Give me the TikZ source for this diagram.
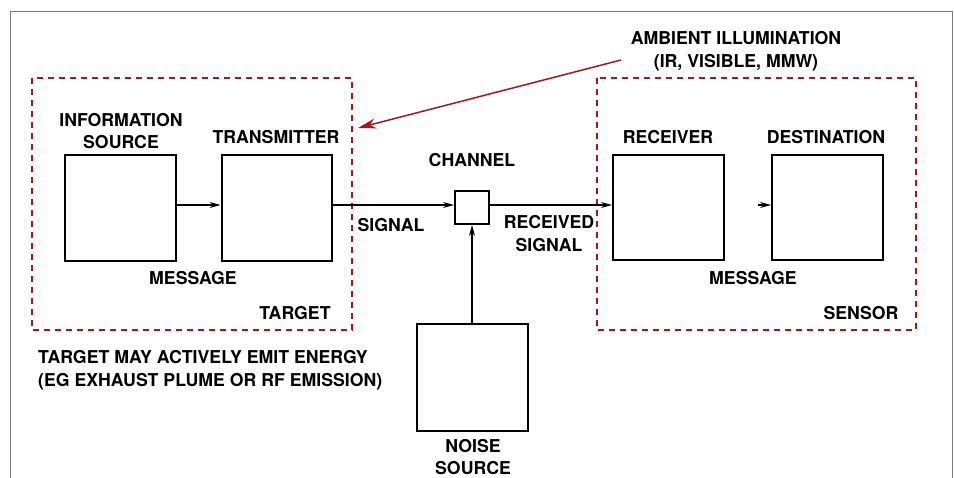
\documentclass[tikz,border=0pt]{standalone}
\usepackage{fontspec}
\setmainfont{TeX Gyre Heros}
\usetikzlibrary{arrows.meta}
\definecolor{dred}{HTML}{9B1B22}
\definecolor{frame}{HTML}{808080}
\begin{document}
\begin{tikzpicture}[x=1pt,y=-1pt,
  lbl/.style={font=\fontsize{17.7}{22.5}\selectfont\bfseries,align=center,inner sep=0pt},
  blk/.style={draw,line width=2pt,inner sep=0pt},
  grp/.style={draw=dred,line width=2pt,dash pattern=on 6pt off 5pt},
  conn/.style={line width=1.2pt,-{Stealth[length=11pt,width=6pt]}}]
\useasboundingbox (0,0) rectangle (954,478);
\draw[frame,line width=1pt] (10,478) -- (10,12) -- (952,12) -- (952,478);
% groups
\draw[grp] (32,78) rectangle (352,330);
\draw[grp] (597,78) rectangle (916,330);
% blocks
\node[blk,minimum width=111pt,minimum height=106pt] (info) at (120.5,208) {};
\node[blk,minimum width=110pt,minimum height=106pt] (tx) at (276.5,208) {};
\node[blk,minimum width=111pt,minimum height=105pt] (rx) at (668.5,207.5) {};
\node[blk,minimum width=111pt,minimum height=105pt] (dst) at (827.5,207.5) {};
\node[blk,minimum width=34pt,minimum height=33pt] (ch) at (472,207.5) {};
\node[blk,minimum width=111pt,minimum height=107pt] (noise) at (472.5,377.5) {};
% connectors
\draw[conn] (info.east |- 0,205) -- (tx.west |- 0,205);
\draw[conn] (tx.east |- 0,205) -- (ch.west |- 0,205);
\draw[conn] (ch.east |- 0,205) -- (rx.west |- 0,205);
\coordinate (dtip) at (758,205);
\draw[conn] (dtip) -- (dst.west |- 0,205);
\draw[conn] (noise.north -| ch.south) -- (ch.south);
\coordinate (amb) at (621,60);
\coordinate (ambt) at (358,128);
\draw[dred,line width=1.5pt,-{Stealth[length=18pt,width=10pt]}] (amb) -- (ambt);
% labels
\node[lbl] (linfo) at (121,131) {INFORMATION\\SOURCE};
\node[lbl] (ltx) at (276,137) {TRANSMITTER};
\node[lbl] (lmsg1) at (193,278) {MESSAGE};
\node[lbl] (ltgt) at (295,313) {TARGET};
\node[lbl] (lch) at (472,160) {CHANNEL};
\node[lbl] (lsig) at (391,225) {SIGNAL};
\node[lbl] (lrsig) at (549,233.5) {RECEIVED\\SIGNAL};
\node[lbl] (lrx) at (668,137) {RECEIVER};
\node[lbl] (ldst) at (826,137) {DESTINATION};
\node[lbl] (lmsg2) at (753,278) {MESSAGE};
\node[lbl] (lsen) at (861,313) {SENSOR};
\node[lbl] (lamb) at (736,51) {AMBIENT ILLUMINATION\\(IR, VISIBLE, MMW)};
\node[lbl,align=left,anchor=west] (lemit) at (38,370) {TARGET MAY ACTIVELY EMIT ENERGY\\(EG EXHAUST PLUME OR RF EMISSION)};
\node[lbl] (lnoise) at (473,457) {NOISE\\SOURCE};
\end{tikzpicture}
\end{document}
